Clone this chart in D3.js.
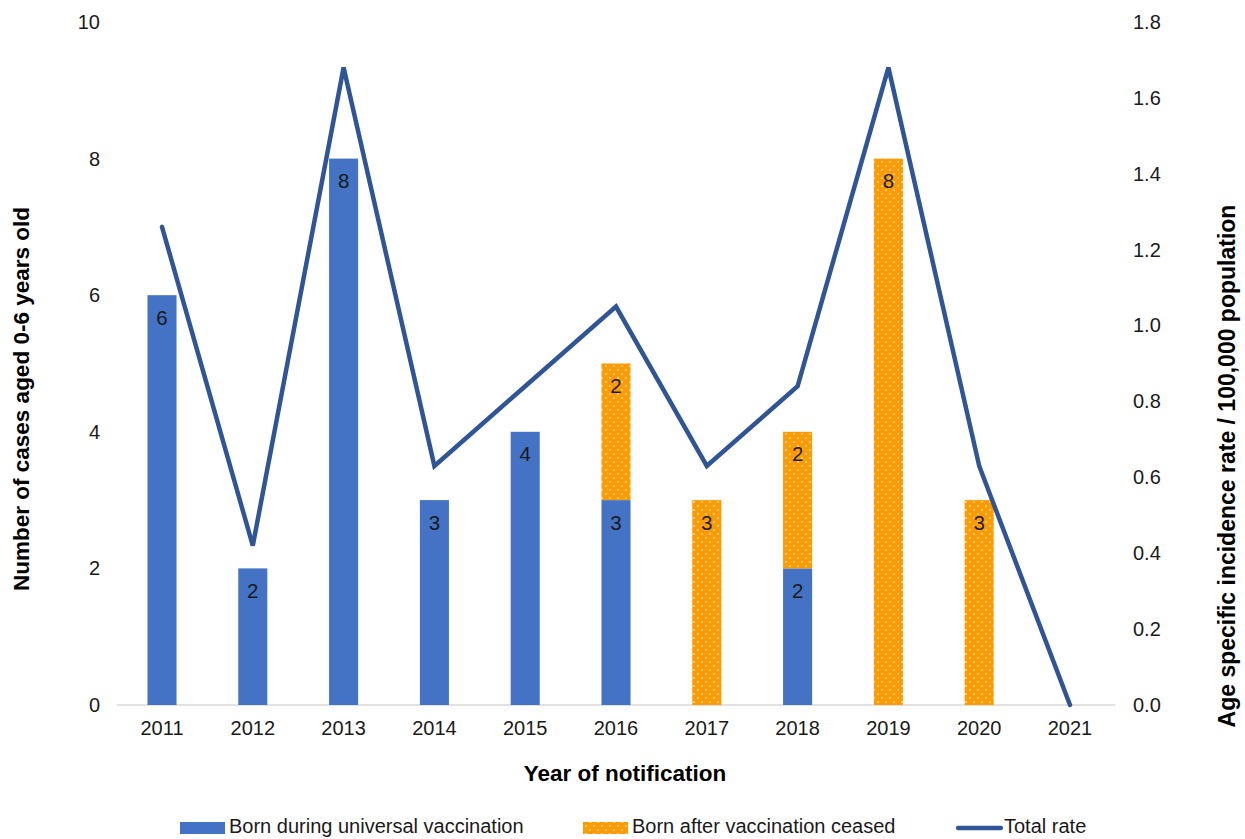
<!DOCTYPE html>
<html>
<head>
<meta charset="utf-8">
<script src="https://cdn.jsdelivr.net/npm/d3@7"></script>
<style>
  html, body { margin: 0; padding: 0; background: #fff; }
  svg { display: block; font-family: "Liberation Sans", Arial, sans-serif; }
</style>
</head>
<body>
<svg id="chart" width="1245" height="839"></svg>
<script>
const years = ["2011","2012","2013","2014","2015","2016","2017","2018","2019","2020","2021"];
const bornDuring = [6, 2, 8, 3, 4, 3, 0, 2, 0, 0, 0];
const bornAfter  = [0, 0, 0, 0, 0, 2, 3, 2, 8, 3, 0];
const totalRate  = [1.26, 0.42, 1.68, 0.63, 0.84, 1.05, 0.63, 0.84, 1.68, 0.63, 0.00];
const leftTicks  = [0, 2, 4, 6, 8, 10];
const rightTicks = [0, 0.2, 0.4, 0.6, 0.8, 1.0, 1.2, 1.4, 1.6, 1.8];
const seriesNames = ["Born during universal vaccination", "Born after vaccination ceased", "Total rate"];

const BLUE = "#4472C4", ORANGE = "#FF9A00", LINE = "#2F5597";

const svg = d3.select("#chart");
const plot = { left: 116.6, right: 1115.4, top: 22, bottom: 705 };

// pattern for orange bars
const defs = svg.append("defs");
const pat = defs.append("pattern").attr("id", "dots").attr("patternUnits", "userSpaceOnUse")
  .attr("width", 8).attr("height", 8);
pat.append("rect").attr("width", 8).attr("height", 8).attr("fill", ORANGE);
pat.append("circle").attr("cx", 2).attr("cy", 2).attr("r", 0.9).attr("fill", "#FFE9C2");
pat.append("circle").attr("cx", 6).attr("cy", 6).attr("r", 0.9).attr("fill", "#FFE9C2");

const x = d3.scaleBand().domain(years).range([plot.left, plot.right])
  .paddingInner(0.68).paddingOuter(0.34);
const yL = d3.scaleLinear().domain([0, 10]).range([plot.bottom, plot.top]);
const yR = d3.scaleLinear().domain([0, 1.8]).range([plot.bottom, plot.top]);

// baseline
svg.append("line").attr("x1", plot.left).attr("x2", plot.right)
  .attr("y1", yL(0)).attr("y2", yL(0)).attr("stroke", "#D9D9D9").attr("stroke-width", 1.3);

// bars
const data = years.map((yr, i) => ({ yr, a: bornDuring[i], b: bornAfter[i] }));
const g = svg.append("g");
g.selectAll("rect.blue").data(data.filter(d => d.a > 0)).enter().append("rect")
  .attr("class", "blue")
  .attr("x", d => x(d.yr)).attr("width", x.bandwidth())
  .attr("y", d => yL(d.a)).attr("height", d => yL(0) - yL(d.a))
  .attr("fill", BLUE);
g.selectAll("rect.orange").data(data.filter(d => d.b > 0)).enter().append("rect")
  .attr("class", "orange")
  .attr("x", d => x(d.yr)).attr("width", x.bandwidth())
  .attr("y", d => yL(d.a + d.b)).attr("height", d => yL(d.a) - yL(d.a + d.b))
  .attr("fill", "url(#dots)");

// labels
const lab = svg.append("g").attr("font-size", 20.5).attr("fill", "#1a1a1a").attr("text-anchor", "middle");
data.forEach(d => {
  if (d.a > 0) lab.append("text").attr("x", x(d.yr) + x.bandwidth() / 2).attr("y", yL(d.a) + 24)
    .attr("dominant-baseline", "middle").text(d.a);
  if (d.b > 0) lab.append("text").attr("x", x(d.yr) + x.bandwidth() / 2).attr("y", yL(d.a + d.b) + 24)
    .attr("dominant-baseline", "middle").text(d.b);
});

// line
const line = d3.line().x((d, i) => x(years[i]) + x.bandwidth() / 2).y(d => yR(d));
svg.append("path").datum(totalRate).attr("d", line).attr("fill", "none")
  .attr("stroke", LINE).attr("stroke-width", 4.5).attr("stroke-linejoin", "miter")
  .attr("stroke-linecap", "round");

// axes
const FONT = "Liberation Sans, Arial, sans-serif";
const axL = d3.axisLeft(yL).tickValues(leftTicks).tickSize(0).tickPadding(0).tickFormat(d3.format("d"));
const gL = svg.append("g").attr("transform", `translate(100,0)`).call(axL);
gL.select(".domain").remove();
gL.selectAll("text").attr("font-size", 20).attr("fill", "#1a1a1a").attr("font-family", FONT);

const axR = d3.axisRight(yR).tickValues(rightTicks).tickSize(0).tickPadding(0).tickFormat(d3.format(".1f"));
const gR = svg.append("g").attr("transform", `translate(1133,0)`).call(axR);
gR.select(".domain").remove();
gR.selectAll("text").attr("font-size", 20).attr("fill", "#1a1a1a").attr("font-family", FONT);

const axB = d3.axisBottom(x).tickSize(0).tickPadding(0);
const gB = svg.append("g").attr("transform", `translate(0,${plot.bottom + 16})`).call(axB);
gB.select(".domain").remove();
gB.selectAll("text").attr("font-size", 20).attr("fill", "#1a1a1a").attr("font-family", FONT);

// titles
svg.append("text").attr("x", 625).attr("y", 775).attr("text-anchor", "middle")
  .attr("dominant-baseline", "middle").attr("font-size", 22.5).attr("font-weight", "bold")
  .attr("fill", "#000").text("Year of notification");
svg.append("text").attr("transform", "translate(23,399) rotate(-90)").attr("text-anchor", "middle")
  .attr("dominant-baseline", "middle").attr("font-size", 22.5).attr("font-weight", "bold")
  .attr("fill", "#000").text("Number of cases aged 0-6 years old");
svg.append("text").attr("transform", "translate(1229,466) rotate(-90)").attr("text-anchor", "middle")
  .attr("dominant-baseline", "middle").attr("font-size", 23).attr("font-weight", "bold")
  .attr("fill", "#000").text("Age specific incidence rate / 100,000 population");

// legend
const leg = svg.append("g").attr("font-size", 20).attr("fill", "#1a1a1a");
const ly = 828;
leg.append("rect").attr("x", 180).attr("y", ly - 6).attr("width", 45).attr("height", 12).attr("fill", BLUE);
leg.append("text").attr("x", 229).attr("y", ly).attr("dominant-baseline", "middle").text(seriesNames[0]);
leg.append("rect").attr("x", 583).attr("y", ly - 6).attr("width", 45).attr("height", 12).attr("fill", "url(#dots)");
leg.append("text").attr("x", 632).attr("y", ly).attr("dominant-baseline", "middle").text(seriesNames[1]);
leg.append("line").attr("x1", 958).attr("x2", 1001).attr("y1", ly).attr("y2", ly)
  .attr("stroke", LINE).attr("stroke-width", 4.3).attr("stroke-linecap", "round");
leg.append("text").attr("x", 1004).attr("y", ly).attr("dominant-baseline", "middle").text(seriesNames[2]);
</script>
</body>
</html>
